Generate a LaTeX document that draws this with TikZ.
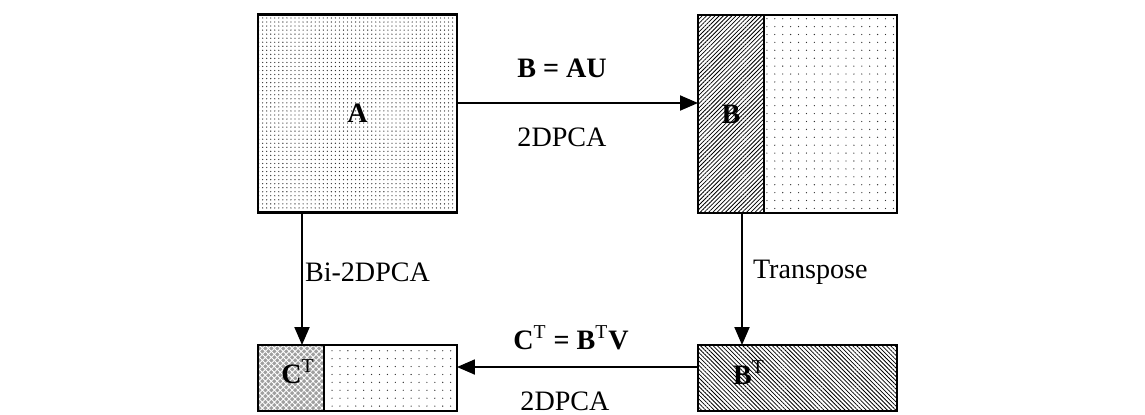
\documentclass[tikz,border=0pt]{standalone}
\usepackage{fontspec}
\setmainfont{Liberation Serif}
\usetikzlibrary{positioning,patterns.meta,arrows.meta}

\begin{document}
\begin{tikzpicture}[x=0.02cm,y=-0.02cm,font=\fontsize{16}{19}\selectfont]
        \tikzstyle{every node}=[inner sep=0pt, outer sep=0pt]
        \tikzstyle{box}=[draw, line width=1.2pt]
        \tikzstyle{fine dots}=[box, pattern={Dots[radius=0.38pt, distance=2.3pt]}, pattern color=black!80]
        \tikzstyle{sparse dots}=[box, pattern={Dots[radius=0.38pt, distance=4.5pt]}, pattern color=black!80]
        \tikzstyle{ne lines}=[box, pattern={Lines[angle=45, distance=1.7pt, line width=0.45pt]}]
        \tikzstyle{nw lines}=[box, pattern={Lines[angle=-45, distance=1.7pt, line width=0.45pt]}]
        \tikzstyle{cross dots}=[box, preaction={fill=gray!75}, pattern={Hatch[angle=45, distance=2.4pt, line width=0.5pt]}, pattern color=white]
        \tikzstyle{arr}=[line width=1.1pt, -{Triangle[length=0.36cm, width=0.3cm]}]
        \useasboundingbox (0,0) rectangle (1145,414);
        \node[fine dots, minimum width=3.98cm, minimum height=3.96cm] (A) at (357.5,113.5) {\textbf{A}};
        \node[ne lines, minimum width=1.32cm, minimum height=3.96cm] (Bs) at (731,114) {\textbf{B}};
        \node[sparse dots, minimum width=2.66cm, minimum height=3.96cm, right=0pt of Bs] (Br) {};
        \node[nw lines, minimum width=3.98cm, minimum height=1.32cm] (BT) at (797.5,378) {};
        \node[cross dots, minimum width=1.32cm, minimum height=1.32cm] (Cs) at (291,378) {};
        \node[sparse dots, minimum width=2.66cm, minimum height=1.32cm, right=0pt of Cs] (Cr) {};
        \node (BTlab) at (749,373) {\textbf{B}\textsuperscript{T}};
        \node (CTlab) at (298,372) {\textbf{C}\textsuperscript{T}};
        % connectors
        \draw[arr] (A.east |- 0,103) -- (Bs.west |- 0,103);
        \draw[arr] (A.south -| 302,0) -- (Cs.north -| 302,0);
        \draw[arr] (Bs.south -| 742,0) -- (BT.north -| 742,0);
        \draw[arr] (BT.west |- 0,367) -- (Cr.east |- 0,367);
        % labels
        \node (eqB) at (562,68) {\textbf{B = AU}};
        \node (pcaTop) at (562,137) {2DPCA};
        \node (eqC) at (571,338) {\textbf{C}\textsuperscript{T} \textbf{= B}\textsuperscript{T}\textbf{V}};
        \node (pcaBot) at (565,401) {2DPCA};
        \node[anchor=west] (bi) at (305,272) {Bi-2DPCA};
        \node[anchor=west] (tr) at (753,272) {Transpose};
\end{tikzpicture}
\end{document}
